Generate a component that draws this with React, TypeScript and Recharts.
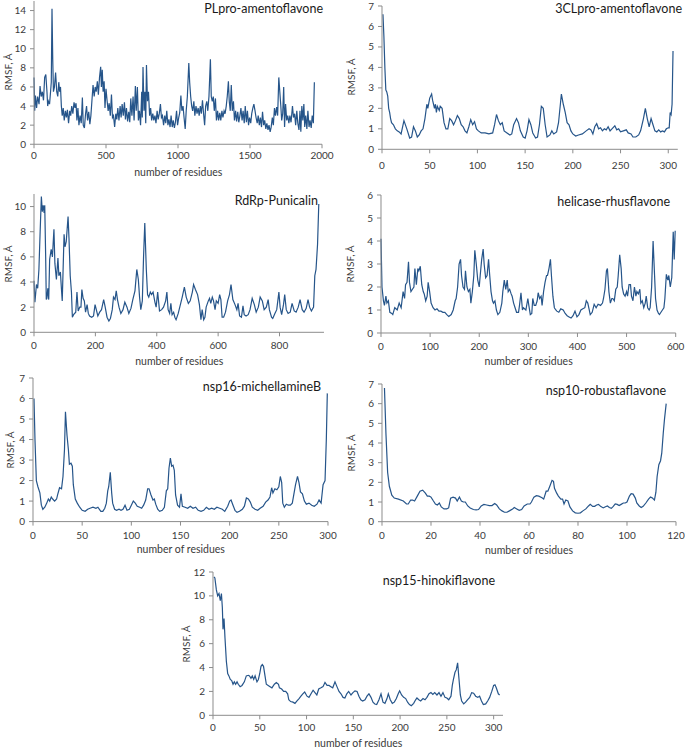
import React from 'react';
import { LineChart, Line, XAxis, YAxis } from 'recharts';

const LINE = '#26558a';
const AXIS = '#8c8c8c';
const TEXT = '#3a3a3a';
const FONT = 'Lato, "Open Sans", sans-serif';

// [residue, RMSF]
const plpro: number[][] = [
  [0, 7.0], [5, 3.5], [10, 5.1], [18, 3.8], [25, 5.0], [35, 4.2], [42, 6.1], [50, 5.0], [58, 5.5], [66, 4.6],
  [74, 7.0], [82, 7.3], [90, 5.5], [95, 4.0], [100, 4.5], [108, 4.2], [115, 5.5], [120, 6.5], [125, 14.2], [130, 9.0],
  [135, 5.5], [142, 6.0], [150, 7.5], [158, 5.5], [165, 5.0], [172, 6.5], [178, 5.5], [184, 6.0], [190, 4.0], [196, 3.0],
  [203, 3.8], [210, 2.5], [218, 3.5], [225, 2.8], [232, 3.6], [240, 2.2], [248, 3.5], [255, 3.0], [262, 4.0], [270, 3.2],
  [278, 4.4], [285, 3.8], [292, 4.3], [298, 2.5], [305, 3.8], [312, 2.0], [320, 3.0], [328, 2.2], [336, 4.9], [342, 2.0],
  [350, 1.7], [358, 3.2], [365, 4.0], [372, 2.5], [380, 3.4], [388, 2.1], [395, 3.0], [402, 4.5], [410, 6.2], [418, 5.0],
  [425, 6.0], [432, 5.5], [440, 6.6], [447, 5.2], [455, 7.0], [463, 8.1], [468, 6.0], [474, 7.8], [480, 5.5], [487, 6.6],
  [493, 3.8], [500, 5.8], [508, 4.5], [515, 3.5], [522, 4.3], [530, 3.0], [538, 5.2], [545, 2.8], [552, 3.0], [560, 1.8],
  [568, 3.2], [575, 2.6], [582, 3.8], [590, 2.5], [598, 4.0], [605, 2.8], [612, 4.2], [620, 3.0], [628, 4.4], [635, 2.6],
  [642, 3.8], [650, 2.4], [658, 3.4], [665, 2.3], [672, 4.8], [680, 3.0], [688, 5.0], [695, 2.5], [704, 6.1], [710, 3.5],
  [718, 6.0], [725, 2.5], [732, 3.5], [740, 2.0], [748, 5.5], [752, 2.8], [757, 8.1], [764, 3.5], [770, 5.5], [776, 2.2],
  [781, 8.3], [788, 4.5], [795, 5.5], [803, 3.0], [810, 3.8], [817, 2.5], [825, 3.2], [832, 2.5], [840, 3.0], [847, 2.2],
  [855, 3.5], [862, 2.6], [870, 3.2], [878, 4.2], [885, 2.8], [892, 3.0], [900, 2.0], [908, 3.0], [915, 2.2], [922, 3.5],
  [930, 2.0], [937, 2.6], [945, 1.8], [952, 3.0], [960, 1.8], [967, 2.5], [975, 1.7], [982, 2.3], [990, 3.5], [997, 2.0],
  [1005, 2.8], [1012, 3.3], [1020, 5.1], [1027, 3.5], [1035, 4.0], [1042, 2.8], [1050, 1.6], [1057, 3.5], [1065, 5.0], [1075, 8.5],
  [1081, 6.5], [1088, 5.0], [1095, 4.0], [1102, 3.5], [1110, 4.5], [1117, 3.0], [1125, 4.0], [1132, 3.2], [1140, 3.8], [1147, 3.0],
  [1155, 4.0], [1162, 3.2], [1170, 4.6], [1177, 3.3], [1185, 2.0], [1192, 4.0], [1200, 4.5], [1207, 3.5], [1215, 5.0], [1225, 8.9],
  [1231, 5.0], [1238, 4.5], [1245, 5.0], [1252, 3.5], [1260, 4.8], [1267, 2.5], [1275, 3.5], [1282, 2.5], [1290, 3.3], [1297, 2.5],
  [1305, 3.5], [1312, 2.8], [1320, 3.5], [1327, 3.2], [1335, 4.0], [1342, 5.0], [1350, 6.6], [1356, 4.5], [1363, 3.5], [1370, 6.2],
  [1377, 3.5], [1385, 4.5], [1392, 2.5], [1400, 3.5], [1407, 2.4], [1415, 3.4], [1422, 2.3], [1430, 3.0], [1437, 3.8], [1445, 2.5],
  [1452, 3.5], [1460, 2.2], [1467, 4.0], [1475, 2.3], [1482, 3.5], [1490, 2.0], [1497, 2.8], [1505, 2.2], [1512, 3.2], [1520, 3.8],
  [1527, 4.2], [1535, 3.5], [1542, 2.8], [1550, 2.2], [1557, 3.0], [1565, 2.0], [1572, 2.8], [1580, 1.8], [1587, 3.4], [1595, 2.0],
  [1602, 2.5], [1610, 1.6], [1617, 2.2], [1625, 1.5], [1632, 2.0], [1640, 1.3], [1647, 1.8], [1655, 2.8], [1662, 2.0], [1670, 3.8],
  [1677, 3.0], [1685, 3.9], [1692, 3.0], [1700, 7.0], [1707, 5.5], [1714, 4.0], [1720, 2.5], [1727, 3.2], [1734, 6.0], [1740, 1.8],
  [1747, 4.2], [1755, 2.5], [1762, 3.0], [1770, 2.2], [1777, 3.0], [1785, 2.3], [1795, 4.0], [1802, 2.8], [1810, 3.2], [1817, 2.0],
  [1825, 3.5], [1832, 2.2], [1840, 1.5], [1847, 3.5], [1853, 1.3], [1860, 4.0], [1867, 2.5], [1874, 4.2], [1880, 1.8], [1887, 3.0],
  [1895, 1.6], [1902, 3.5], [1910, 1.8], [1917, 2.5], [1925, 1.7], [1932, 3.0], [1940, 2.2], [1947, 6.5],
];

const clpro: number[][] = [
  [1, 6.6], [2, 5.5], [3, 4.0], [4, 2.9], [5, 2.8], [6, 2.6], [7, 2.0], [8, 1.8], [9, 1.5], [10, 1.3],
  [12, 1.2], [14, 1.0], [16, 0.9], [18, 0.85], [20, 0.75], [23, 1.4], [26, 1.0], [29, 0.55], [31, 0.6], [33, 1.1],
  [35, 0.9], [37, 0.6], [39, 0.7], [41, 0.9], [43, 1.0], [45, 1.5], [47, 2.2], [48, 2.0], [50, 2.5], [52, 2.7],
  [53, 2.4], [55, 2.0], [56, 2.2], [57, 1.8], [58, 2.1], [60, 1.9], [61, 2.1], [63, 2.0], [65, 1.3], [67, 1.0],
  [69, 1.0], [71, 1.5], [73, 1.4], [75, 1.2], [77, 1.4], [79, 1.65], [81, 1.5], [83, 1.2], [85, 1.1], [87, 0.9],
  [89, 0.8], [91, 1.1], [93, 1.45], [95, 1.2], [97, 1.35], [99, 1.0], [101, 0.9], [104, 0.8], [108, 0.8], [112, 0.75],
  [116, 0.8], [118, 1.2], [120, 1.7], [122, 1.4], [124, 1.2], [126, 1.3], [128, 0.9], [131, 0.8], [134, 0.7], [136, 0.75],
  [138, 1.2], [141, 1.5], [143, 1.3], [145, 0.9], [148, 0.6], [150, 0.55], [152, 0.9], [154, 1.45], [156, 1.2], [158, 0.8],
  [161, 0.55], [163, 0.6], [165, 1.2], [167, 2.1], [169, 2.0], [171, 1.2], [173, 0.6], [176, 0.7], [178, 0.9], [180, 0.75],
  [183, 0.85], [185, 1.3], [188, 2.7], [190, 2.2], [192, 1.8], [194, 1.3], [196, 1.2], [198, 0.9], [200, 0.75], [203, 0.65],
  [206, 0.7], [210, 0.75], [214, 0.9], [217, 1.0], [219, 0.95], [221, 0.75], [223, 1.1], [225, 1.25], [227, 1.0], [229, 1.05],
  [231, 0.9], [233, 1.0], [235, 0.95], [237, 1.1], [239, 0.9], [241, 1.0], [244, 1.15], [246, 0.95], [248, 1.0], [250, 0.85],
  [253, 0.9], [256, 0.95], [258, 0.8], [261, 0.75], [263, 0.6], [266, 0.6], [269, 0.7], [271, 0.9], [272, 1.1], [274, 1.5],
  [276, 2.0], [278, 1.5], [280, 1.1], [282, 1.5], [284, 1.2], [286, 0.9], [288, 0.85], [290, 0.95], [292, 0.85], [294, 0.9],
  [296, 0.85], [298, 1.0], [300, 1.05], [301, 1.05], [302, 1.8], [303, 1.7], [304, 2.2], [305, 4.8],
];

const rdrp: number[][] = [
  [0, 4.1], [3, 2.4], [8, 3.8], [12, 3.5], [16, 5.0], [20, 8.0], [24, 10.8], [27, 9.6], [30, 10.1], [33, 9.5],
  [35, 10.1], [38, 6.0], [40, 2.6], [42, 2.7], [45, 3.5], [48, 2.6], [51, 5.8], [56, 6.6], [60, 6.0], [65, 8.2],
  [68, 5.5], [73, 4.2], [78, 5.9], [81, 4.5], [86, 4.8], [89, 3.6], [92, 2.5], [98, 7.8], [101, 6.8], [105, 7.2],
  [111, 9.2], [114, 7.5], [118, 4.5], [122, 3.2], [125, 1.2], [129, 1.4], [136, 1.6], [140, 3.2], [144, 1.7], [149, 2.0],
  [153, 2.0], [156, 3.4], [160, 2.7], [164, 2.5], [168, 1.6], [173, 2.2], [177, 1.5], [181, 1.3], [188, 1.2], [194, 1.3],
  [199, 2.2], [203, 1.8], [208, 1.3], [214, 1.6], [220, 1.8], [227, 2.6], [232, 2.0], [238, 1.2], [244, 0.9], [249, 1.1],
  [255, 1.8], [259, 2.8], [264, 2.6], [268, 3.3], [272, 2.6], [277, 2.0], [283, 1.5], [290, 1.8], [296, 2.4], [303, 2.0],
  [309, 1.5], [316, 1.9], [322, 2.6], [329, 3.3], [335, 5.0], [340, 4.2], [344, 2.8], [348, 1.8], [353, 2.5], [357, 6.0],
  [361, 8.7], [366, 5.0], [370, 3.0], [374, 2.8], [379, 3.2], [383, 3.0], [388, 3.2], [394, 2.4], [398, 2.0], [403, 3.2],
  [409, 1.7], [416, 1.8], [422, 2.0], [429, 2.5], [433, 3.2], [437, 1.8], [442, 1.5], [446, 2.3], [450, 1.4], [455, 1.6],
  [459, 1.2], [463, 1.0], [470, 1.5], [477, 2.2], [483, 2.8], [490, 3.6], [496, 2.8], [503, 2.3], [509, 2.5], [516, 3.2],
  [520, 3.8], [526, 3.4], [533, 3.0], [539, 2.2], [544, 1.0], [548, 1.8], [553, 1.0], [557, 1.2], [561, 2.0], [568, 2.5],
  [572, 2.7], [576, 2.3], [581, 2.8], [585, 2.5], [590, 1.8], [594, 2.5], [600, 2.3], [605, 3.0], [609, 2.6], [613, 1.2],
  [618, 1.2], [624, 1.6], [631, 2.5], [637, 3.0], [642, 3.8], [648, 2.6], [655, 2.2], [661, 1.8], [665, 2.3], [670, 1.3],
  [676, 1.2], [681, 2.1], [685, 1.4], [691, 1.3], [698, 1.4], [704, 1.8], [711, 2.7], [718, 2.2], [724, 1.6], [731, 2.0],
  [737, 2.8], [744, 2.5], [750, 1.8], [757, 2.0], [763, 2.6], [767, 1.8], [774, 1.2], [778, 1.1], [785, 1.5], [791, 1.8],
  [798, 3.2], [802, 2.0], [807, 1.4], [813, 2.2], [817, 3.0], [822, 1.8], [828, 1.5], [835, 1.6], [841, 2.3], [848, 1.7],
  [854, 1.6], [861, 2.0], [867, 2.6], [874, 1.8], [880, 1.6], [887, 1.9], [893, 2.6], [898, 2.0], [904, 1.7], [911, 2.0],
  [915, 4.5], [919, 5.0], [924, 7.0], [928, 10.2],
];

const helicase: number[][] = [
  [0, 4.1], [2, 2.0], [5, 1.4], [7, 1.2], [10, 1.6], [12, 1.3], [15, 1.4], [18, 0.9], [22, 0.85], [24, 0.8],
  [28, 1.1], [33, 1.0], [37, 1.3], [41, 1.1], [45, 1.8], [48, 1.5], [50, 2.1], [53, 2.2], [56, 3.1], [58, 2.2],
  [61, 1.8], [64, 1.9], [67, 2.0], [69, 2.8], [72, 2.1], [75, 2.8], [77, 2.7], [80, 2.9], [83, 2.1], [86, 1.8],
  [88, 1.7], [91, 1.4], [94, 1.6], [96, 2.2], [99, 1.8], [102, 1.3], [106, 1.1], [110, 1.0], [114, 1.05], [118, 0.95],
  [122, 0.95], [126, 0.9], [130, 0.9], [134, 0.8], [138, 0.72], [143, 0.8], [147, 1.0], [151, 1.4], [153, 1.5], [156, 2.0],
  [159, 3.0], [162, 3.2], [164, 2.5], [167, 2.0], [170, 1.9], [172, 2.7], [175, 2.0], [178, 1.8], [181, 1.9], [183, 1.3],
  [186, 1.8], [189, 2.5], [191, 3.6], [194, 3.0], [197, 2.3], [200, 2.0], [202, 2.5], [205, 3.2], [208, 3.65], [210, 3.0],
  [213, 2.4], [216, 2.5], [219, 3.2], [221, 2.6], [224, 1.8], [227, 1.4], [229, 1.3], [232, 1.4], [235, 1.0], [238, 0.8],
  [242, 0.9], [246, 1.3], [248, 1.8], [251, 2.3], [254, 1.9], [257, 2.3], [259, 1.8], [262, 1.9], [265, 1.7], [267, 1.6],
  [270, 1.3], [273, 1.1], [276, 0.9], [280, 0.9], [282, 1.2], [285, 1.75], [288, 1.0], [290, 1.1], [295, 1.0], [299, 1.5],
  [301, 1.2], [304, 0.8], [307, 0.85], [309, 1.5], [312, 1.2], [315, 1.2], [318, 1.4], [320, 1.75], [323, 1.5], [326, 1.6],
  [328, 1.2], [331, 1.8], [334, 2.2], [337, 2.5], [339, 2.5], [342, 2.8], [345, 3.2], [347, 2.5], [350, 1.6], [353, 1.1],
  [356, 1.0], [358, 0.95], [362, 0.9], [366, 1.05], [371, 1.0], [375, 0.85], [379, 0.75], [383, 0.7], [387, 0.65], [391, 0.75],
  [395, 0.95], [399, 0.7], [403, 0.8], [407, 1.0], [411, 1.05], [415, 1.1], [418, 1.4], [421, 1.3], [424, 1.0], [426, 0.8],
  [430, 0.9], [434, 1.25], [438, 1.1], [442, 1.25], [447, 1.2], [451, 1.3], [453, 1.5], [456, 1.9], [459, 2.7], [461, 2.8],
  [464, 1.8], [467, 1.3], [470, 1.5], [472, 1.5], [475, 1.4], [478, 1.9], [481, 2.0], [483, 2.5], [486, 3.4], [489, 2.8],
  [491, 2.0], [494, 1.7], [497, 1.6], [500, 1.8], [502, 1.6], [505, 2.1], [508, 2.1], [510, 1.6], [513, 1.4], [516, 2.0],
  [519, 1.6], [521, 1.8], [524, 1.7], [527, 1.9], [529, 1.3], [532, 1.4], [535, 1.1], [538, 1.3], [540, 1.6], [543, 1.1],
  [546, 1.0], [548, 1.1], [551, 2.0], [554, 4.0], [557, 2.5], [559, 1.5], [562, 1.0], [565, 0.85], [567, 0.8], [570, 0.9],
  [573, 1.0], [576, 1.1], [578, 1.5], [581, 2.55], [584, 2.3], [586, 2.5], [589, 2.0], [592, 2.4], [595, 4.4], [597, 3.2],
  [599, 4.45],
];

const nsp16: number[][] = [
  [1, 6.0], [2, 4.0], [3.4, 2.0], [5, 1.7], [7, 1.4], [8.5, 0.8], [10, 0.6], [12, 0.7], [14, 0.9], [15.6, 1.1],
  [17, 1.0], [18.6, 1.2], [20, 1.1], [22, 1.0], [24, 1.1], [25, 1.3], [27, 1.65], [29, 1.6], [30.5, 2.2], [32, 3.5],
  [33, 5.35], [34.6, 4.2], [36, 3.5], [37, 2.8], [38.6, 2.85], [40, 2.7], [41, 1.8], [43, 1.1], [45, 0.9], [47.5, 0.7],
  [50, 0.55], [53, 0.5], [55.6, 0.6], [58, 0.65], [61, 0.7], [64, 0.65], [66, 0.7], [69, 0.5], [71, 0.5], [73, 0.65],
  [74.6, 0.9], [76, 1.5], [77, 1.7], [78.6, 2.4], [80, 1.4], [81, 0.9], [83, 0.6], [85, 0.55], [87.5, 0.6], [89.5, 0.55],
  [91.5, 0.6], [93.6, 0.8], [95.6, 0.55], [98, 0.6], [100, 0.8], [102, 1.0], [104, 0.9], [106, 0.75], [108.5, 0.7], [110.5, 0.65],
  [112.5, 0.8], [114.6, 1.05], [116.6, 1.6], [118, 1.6], [120, 1.3], [122, 1.05], [123.4, 1.1], [124.8, 0.85], [126.8, 0.6], [128.8, 0.5],
  [131.5, 0.55], [133.6, 0.7], [135.6, 1.5], [137, 1.6], [138.3, 2.6], [139.7, 3.1], [141, 2.7], [142.4, 2.75], [143.7, 2.5], [145, 1.3],
  [147, 0.8], [149, 0.7], [150.5, 1.35], [151.9, 0.75], [154.6, 0.7], [157.3, 0.65], [160, 0.75], [162.7, 0.65], [165.4, 0.7], [168, 0.55],
  [170.9, 0.5], [173.6, 0.55], [176.3, 0.7], [179, 0.6], [181.7, 0.65], [184.4, 0.6], [187, 0.7], [189.8, 0.65], [192.5, 0.6], [195, 0.5],
  [198, 0.75], [200, 1.0], [201.4, 1.05], [203.4, 0.8], [205.4, 0.55], [207.5, 0.45], [210, 0.5], [212.9, 0.6], [215, 0.75], [217, 1.15],
  [219, 1.1], [221, 0.95], [223, 0.7], [225.8, 0.6], [228.5, 0.55], [231, 0.65], [234, 0.75], [236.6, 0.95], [239, 1.05], [241, 1.2],
  [242.7, 1.65], [244, 1.4], [246, 1.6], [248, 1.55], [250, 1.7], [251.5, 2.2], [252.9, 1.9], [254, 0.9], [255.6, 0.7], [257.6, 0.85],
  [259.7, 0.8], [261.7, 0.8], [263.7, 0.9], [265, 1.25], [267, 1.8], [269, 2.2], [270.5, 1.9], [272, 1.45], [274, 1.35], [276, 1.0],
  [278, 0.85], [280.7, 0.9], [283.4, 0.8], [286, 0.75], [288.8, 0.85], [290.9, 1.05], [293, 0.9], [295, 1.8], [297, 2.0], [298.3, 4.0],
  [299.3, 6.25],
];

const nsp10: number[][] = [
  [1, 6.8], [1.6, 4.5], [2.3, 2.5], [3, 1.8], [4, 1.35], [5, 1.2], [6.7, 1.15], [8.7, 1.05], [10, 0.9], [10.7, 0.9],
  [11.7, 1.1], [12.5, 1.1], [13.3, 1.05], [14.4, 1.3], [15.5, 1.55], [16.6, 1.6], [17.7, 1.45], [18.5, 1.3], [19.3, 1.3], [20, 1.25],
  [21, 1.05], [21.8, 0.9], [22.6, 0.85], [23.4, 0.95], [24.2, 0.75], [25.3, 0.65], [26.4, 0.65], [27.2, 0.7], [28, 1.2], [29, 1.25],
  [30, 1.2], [30.7, 1.05], [31.6, 1.25], [32.4, 1.05], [33.2, 1.0], [34, 1.0], [35, 0.8], [36, 0.7], [37.3, 0.62], [38.4, 0.6],
  [39.4, 0.62], [40.5, 0.8], [41.6, 0.88], [42.7, 0.85], [43.8, 0.82], [44.9, 0.82], [46, 0.92], [46.8, 0.85], [47.9, 0.65], [49, 0.55],
  [50, 0.48], [51, 0.48], [52, 0.55], [53.3, 0.65], [54, 0.72], [55, 0.65], [56, 0.58], [57, 0.62], [58, 0.8], [59.3, 0.9],
  [60.4, 0.9], [61, 1.0], [62, 1.25], [63, 1.32], [64, 1.3], [65.3, 1.22], [66, 1.15], [67, 1.55], [67.7, 1.55], [68.5, 1.8],
  [69.4, 2.1], [70, 2.05], [70.4, 1.7], [71.3, 1.45], [72, 1.3], [73, 1.15], [73.7, 1.15], [74.3, 0.9], [75, 1.1], [75.9, 1.05],
  [76.7, 0.75], [77.8, 0.55], [78.9, 0.45], [80, 0.43], [81, 0.45], [82, 0.55], [83.2, 0.65], [84.3, 0.8], [85, 0.88], [86, 0.78],
  [86.8, 0.78], [87.6, 0.85], [88.4, 0.88], [89.2, 0.78], [90.3, 0.7], [91, 0.75], [92, 0.8], [92.8, 0.72], [93.6, 0.68], [94.4, 0.78],
  [95.2, 0.9], [96, 0.88], [96.8, 0.82], [97.6, 0.88], [98.5, 0.95], [99.3, 0.95], [100, 1.0], [101, 1.3], [101.7, 1.42], [102.5, 1.4],
  [103.4, 1.2], [104, 0.95], [105, 0.8], [105.8, 0.72], [106.6, 0.78], [107.7, 0.95], [108.8, 1.15], [109.6, 1.25], [110.4, 1.2], [111.2, 1.1],
  [111.8, 1.5], [112.3, 2.3], [113, 2.9], [113.7, 3.1], [114.2, 3.5], [114.8, 4.5], [115.3, 5.2], [116, 6.0],
];

const nsp15: number[][] = [
  [1, 11.6], [2, 11.5], [3.6, 10.5], [5, 10.0], [6.4, 10.2], [7.8, 9.6], [9, 10.2], [10, 9.0], [10.7, 7.2], [11.8, 8.1],
  [12.8, 6.5], [14.3, 4.5], [15.7, 3.5], [17, 3.3], [18.5, 3.0], [20, 2.9], [21.4, 2.6], [22.8, 2.8], [24.2, 2.6], [25.7, 2.8],
  [27, 2.6], [29, 2.4], [31, 2.5], [33.5, 2.8], [35.6, 3.3], [37.8, 3.35], [39, 3.3], [40.6, 3.1], [42, 3.3], [43.5, 3.0],
  [45, 3.3], [47, 2.8], [48.5, 3.0], [50, 3.5], [51.3, 4.1], [52.7, 4.25], [54, 4.1], [55.6, 3.3], [57, 2.6], [59, 2.5],
  [61, 2.4], [63, 2.3], [65.6, 2.6], [67.7, 2.75], [70, 2.6], [71, 2.3], [73.4, 2.2], [75.5, 2.0], [77.7, 2.0], [79.8, 1.8],
  [81, 1.3], [83, 1.15], [85.5, 1.1], [87.6, 1.0], [89.8, 1.2], [92, 1.4], [94, 1.6], [96, 1.8], [98, 1.95], [100.5, 1.6],
  [102.6, 1.5], [104.8, 1.8], [107, 2.1], [109, 1.9], [111, 1.7], [113, 2.2], [115.4, 2.3], [117.6, 2.4], [119.7, 2.75], [121.9, 2.5],
  [124, 2.5], [126, 2.4], [128, 2.3], [130.4, 2.8], [132.5, 2.4], [134.7, 2.0], [136.8, 1.8], [139, 1.5], [141, 1.45], [143, 1.8],
  [145, 2.0], [147.5, 1.7], [149.6, 1.9], [151.8, 2.05], [154, 2.0], [156, 1.6], [158, 1.3], [160, 1.2], [162.5, 1.3], [164.6, 1.6],
  [166.7, 1.8], [168.9, 1.5], [171, 1.1], [173, 0.95], [175, 0.9], [177.4, 1.3], [179.6, 1.8], [181.7, 1.1], [183.8, 1.0], [186, 1.4],
  [187.4, 1.8], [189.5, 1.3], [191.7, 1.0], [193.8, 1.1], [196, 1.4], [198, 1.8], [199.5, 2.05], [201.6, 1.7], [203.8, 1.5], [206, 1.4],
  [208, 1.1], [210, 0.9], [212, 0.8], [214.5, 1.0], [216.6, 1.3], [218, 1.45], [220, 1.3], [222, 1.2], [224.5, 1.4], [226.6, 1.3],
  [228.7, 1.5], [230.9, 1.8], [233, 1.9], [235, 1.75], [237, 1.9], [239.4, 1.7], [241.6, 1.9], [243.7, 1.6], [245.8, 1.9], [248, 1.5],
  [250, 1.45], [252, 1.3], [254.4, 1.6], [255.8, 2.5], [257, 3.0], [258.7, 3.6], [260, 3.8], [261.5, 4.4], [263, 3.0], [264.4, 1.7],
  [265.8, 1.2], [268, 0.95], [270, 1.1], [272, 1.3], [274.4, 1.5], [276.5, 1.9], [278.6, 1.85], [280.8, 1.6], [283, 1.5], [285, 1.6],
  [287, 1.2], [289, 0.9], [291.5, 0.95], [293.6, 1.2], [295.7, 1.5], [298, 2.0], [300, 2.5], [301.4, 2.55], [302.8, 2.3], [305, 1.8],
  [306.4, 1.7],
];

const titles = ['PLpro-amentoflavone', '3CLpro-amentoflavone', 'RdRp-Punicalin', 'helicase-rhusflavone',
  'nsp16-michellamineB', 'nsp10-robustaflavone', 'nsp15-hinokiflavone'];

const ticksPL = [0, 500, 1000, 1500, 2000];
const ticks300 = [0, 50, 100, 150, 200, 250, 300];
const ticksRd = [0, 200, 400, 600, 800];
const ticksHel = [0, 100, 200, 300, 400, 500, 600];
const ticks120 = [0, 20, 40, 60, 80, 100, 120];
const yTicks14 = [0, 2, 4, 6, 8, 10, 12, 14];
const yTicks7 = [0, 1, 2, 3, 4, 5, 6, 7];
const yTicks10 = [0, 2, 4, 6, 8, 10];
const yTicks6 = [0, 1, 2, 3, 4, 5, 6];
const yTicks12 = [0, 2, 4, 6, 8, 10, 12];

const YW = 40;
const MT = 10;
const MR = 18;
const XH = 30;

type PanelProps = {
  data: number[][];
  title: string;
  left: number;
  top: number;
  w: number;
  h: number;
  xMax: number;
  yMax: number;
  xTicks: number[];
  yTicks: number[];
  titleRight: number;
  titleY: number;
  yLabelX: number;
  tickGap: number;
  xTitle?: boolean;
};

const Panel = (p: PanelProps) => {
  const rows = p.data.map(([x, y]) => ({ x, y }));
  const tick = { fill: TEXT, fontSize: 10 };
  return (
    <>
      <div style={{ position: 'absolute', left: p.left - YW, top: p.top - MT }}>
        <LineChart
          width={p.w + YW + MR}
          height={p.h + MT + XH}
          data={rows}
          margin={{ top: MT, right: MR, bottom: 0, left: 0 }}
        >
          <XAxis
            type="number"
            dataKey="x"
            domain={[0, p.xMax]}
            ticks={p.xTicks}
            interval={0}
            height={XH}
            tickSize={4}
            tickMargin={p.tickGap}
            stroke={AXIS}
            tick={tick}
          />
          <YAxis
            type="number"
            domain={[0, p.yMax]}
            ticks={p.yTicks}
            interval={0}
            width={YW}
            tickSize={4}
            tickMargin={4}
            stroke={AXIS}
            tick={tick}
          />
          <Line type="linear" dataKey="y" stroke={LINE} strokeWidth={1.2} dot={false} isAnimationActive={false} />
        </LineChart>
      </div>
      <div
        style={{
          position: 'absolute', right: 685 - p.titleRight, top: p.titleY, transform: 'translateY(-50%)',
          fontSize: 12.5, color: '#1a1a1a', whiteSpace: 'nowrap',
        }}
      >
        {p.title}
      </div>
      <div
        style={{
          position: 'absolute', left: p.yLabelX, top: p.top + p.h / 2, transform: 'translate(-50%, -50%) rotate(-90deg)',
          fontSize: 10, color: TEXT, whiteSpace: 'nowrap',
        }}
      >
        RMSF, Å
      </div>
      {p.xTitle !== false && (
        <div
          style={{
            position: 'absolute', left: p.left + p.w / 2, top: p.top + p.h + 28, transform: 'translate(-50%, -50%)',
            fontSize: 10.5, color: TEXT, whiteSpace: 'nowrap',
          }}
        >
          number of residues
        </div>
      )}
    </>
  );
};

export default function App() {
  return (
    <div
      style={{
        position: 'absolute', left: 0, top: 0, width: 685, height: 748, background: '#fff',
        fontFamily: FONT, overflow: 'hidden',
      }}
    >
      <Panel data={plpro} title={titles[0]} left={34.3} top={0.75} w={288} h={143.25} xMax={2000} yMax={15}
        xTicks={ticksPL} yTicks={yTicks14} titleRight={323} titleY={7.5} yLabelX={8} tickGap={4} />
      <Panel data={clpro} title={titles[1]} left={382} top={5.7} w={295.8} h={143.3} xMax={310} yMax={7}
        xTicks={ticks300} yTicks={yTicks7} titleRight={682} titleY={7.5} yLabelX={351} tickGap={9} xTitle={false} />
      <Panel data={rdrp} title={titles[2]} left={34.3} top={194.4} w={290} h={138.3} xMax={945} yMax={11}
        xTicks={ticksRd} yTicks={yTicks10} titleRight={318} titleY={200} yLabelX={8} tickGap={6} />
      <Panel data={helicase} title={titles[3]} left={381.3} top={195} w={294.7} h={138} xMax={600} yMax={6}
        xTicks={ticksHel} yTicks={yTicks6} titleRight={670} titleY={201} yLabelX={350} tickGap={6} />
      <Panel data={nsp16} title={titles[4]} left={33.3} top={377.7} w={295} h={143.6} xMax={300} yMax={7}
        xTicks={ticks300} yTicks={yTicks7} titleRight={321} titleY={386} yLabelX={10} tickGap={6} />
      <Panel data={nsp10} title={titles[5]} left={382} top={384} w={294} h={137.7} xMax={120} yMax={7}
        xTicks={ticks120} yTicks={yTicks7} titleRight={666} titleY={390} yLabelX={351} tickGap={6} />
      <Panel data={nsp15} title={titles[6]} left={213.3} top={572} w={290} h={143.3} xMax={310} yMax={12}
        xTicks={ticks300} yTicks={yTicks12} titleRight={495} titleY={580} yLabelX={186} tickGap={5} />
    </div>
  );
}
